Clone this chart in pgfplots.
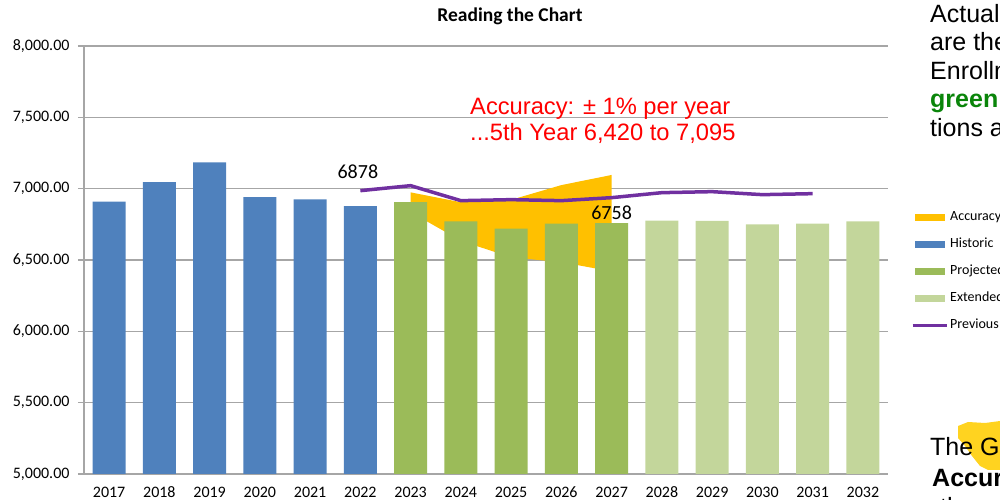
\documentclass[border=0pt]{standalone}
\usepackage{pgfplots}
\pgfplotsset{compat=1.18}
\usepackage{fontspec}
\setmainfont{Carlito}
\newfontfamily\arial{Liberation Sans}
\definecolor{histblue}{HTML}{4F81BD}
\definecolor{projgreen}{HTML}{9BBB59}
\definecolor{extgreen}{HTML}{C3D69B}
\definecolor{prevpurple}{HTML}{7030A0}
\definecolor{accgold}{HTML}{FFC000}
\definecolor{gridgray}{HTML}{A6A6A6}
\definecolor{txtgreen}{HTML}{0A850A}
\definecolor{brush}{HTML}{FFD320}

\begin{document}
\begin{tikzpicture}[x=1pt,y=1pt]
% yellow brush behind bottom-right text
\fill[brush] (958,74) -- (968,78) -- (985,77) -- (1000,79) -- (1000,30) -- (988,30) -- (980,34) -- (972,44) -- (965,54) -- (958,62) -- cycle;
\begin{axis}[
  at={(84pt,26pt)}, anchor=south west,
  scale only axis, width=804pt, height=428pt,
  xmin=-0.5, xmax=15.5, ymin=5000, ymax=8000,
  axis x line*=bottom, axis y line*=left,
  axis line style={gridgray, line width=1.2pt, -},
  ytick={5000,5500,...,8000},
  ymajorgrids, grid style={gridgray, line width=1.2pt},
  xtick={0,...,15},
  xticklabels={2017,2018,2019,2020,2021,2022,2023,2024,2025,2026,2027,2028,2029,2030,2031,2032},
  x tick style={draw=none},
  y tick style={gridgray, line width=1.2pt},
  tick align=outside, major tick length=6pt,
  yticklabel={\pgfmathprintnumber[fixed,fixed zerofill,precision=2,1000 sep={,},assume math mode=true]{\tick}},
  tick label style={font=\fontsize{16}{19}\selectfont},
  yticklabel style={xshift=-5pt},
  xticklabel style={anchor=north, inner sep=1pt, yshift=-5.5pt, text height=10.5pt, text depth=0pt},
  legend style={at={(1.0249,0.624)}, anchor=north west, draw=none, fill=none,
    font=\fontsize{14}{16}\selectfont, row sep=11pt,
    nodes={text height=9pt, text depth=3pt, inner sep=2pt}},
  legend cell align=left,
]
\addplot[fill=accgold, draw=none,
  legend image code/.code={\fill[accgold] (0pt,-3.5pt) rectangle (30pt,3.5pt);}]
  coordinates {(6,6974) (7,6905) (8,6922) (9,7025) (10,7096) (10,6420) (9,6485) (8,6518) (7,6635) (6,6836)};
\addlegendentry{Accuracy}
\addplot[ybar, bar width=0.66, bar shift=0pt, fill=histblue, draw=none,
  legend image code/.code={\fill[histblue] (0pt,-3.5pt) rectangle (30pt,3.5pt);}]
  coordinates {(0,6910) (1,7045) (2,7185) (3,6940) (4,6925) (5,6878)};
\addlegendentry{Historic}
\addplot[ybar, bar width=0.66, bar shift=0pt, fill=projgreen, draw=none,
  legend image code/.code={\fill[projgreen] (0pt,-3.5pt) rectangle (30pt,3.5pt);}]
  coordinates {(6,6905) (7,6770) (8,6720) (9,6755) (10,6758)};
\addlegendentry{Projected}
\addplot[ybar, bar width=0.66, bar shift=0pt, fill=extgreen, draw=none,
  legend image code/.code={\fill[extgreen] (0pt,-3.5pt) rectangle (30pt,3.5pt);}]
  coordinates {(11,6776) (12,6775) (13,6750) (14,6755) (15,6770)};
\addlegendentry{Extended}
\addplot[prevpurple, line width=3.5pt, mark=none,
  legend image code/.code={\draw[prevpurple, line width=3pt] (-2pt,0pt) -- (32pt,0pt);}]
  coordinates {(5,6986) (6,7021) (7,6916) (8,6923) (9,6916) (10,6937) (11,6972) (12,6979) (13,6958) (14,6965)};
\addlegendentry{Previous}
\node[font=\fontsize{20}{22}\selectfont] at (axis cs:4.95,7119) {6878};
\node[font=\fontsize{20}{22}\selectfont] at (axis cs:10,6832) {6758};
\end{axis}
% title
\node[anchor=base, font=\bfseries\fontsize{19.5}{22}\selectfont] at (510,478) {Reading the Chart};
% red annotation
\node[anchor=base west, inner sep=0pt, text=red, font=\arial\fontsize{23.7}{26}\selectfont] at (470,385) {Accuracy: ± 1\% per year};
\node[anchor=base west, inner sep=0pt, text=red, font=\arial\fontsize{23.7}{26}\selectfont] at (470,359) {...5th Year 6,420 to 7,095};
% right-hand text (cut off at the edge)
\begin{scope}[every node/.style={anchor=base west, inner sep=0pt, font=\arial\fontsize{25}{28}\selectfont}]
\node at (930,477.5) {Actual enrollments};
\node at (930,449) {are the blue bars.};
\node at (930,420.5) {Enrollment projections};
\node at (930,392) {\textcolor{txtgreen}{\bfseries green} bars. Projec-};
\node at (930,363.5) {tions are light green.};
\node at (930,44.5) {The Gold area is the};
\node at (932,13.5) {\bfseries Accuracy range};
\node at (940,-15.5) {the projection};
\end{scope}
\pgfresetboundingbox
\path[use as bounding box] (0,0) rectangle (1000,500);
\end{tikzpicture}
\end{document}
